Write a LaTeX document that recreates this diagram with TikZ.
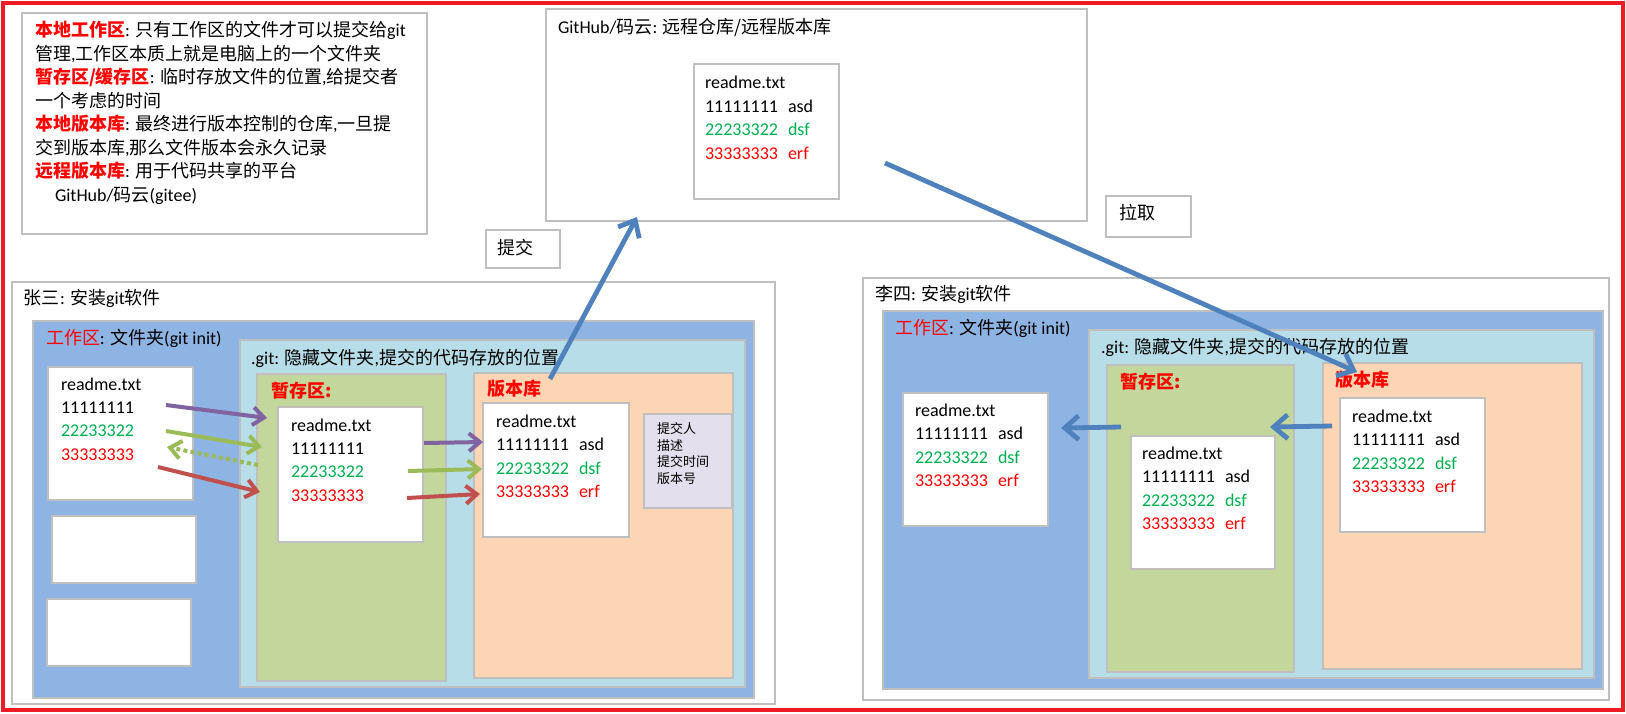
\documentclass[tikz,border=0pt]{standalone}
\usepackage{fontspec}
\setmainfont{Carlito}
\newfontfamily\zhfont{Noto Sans CJK SC}
\usetikzlibrary{arrows.meta}
\definecolor{framered}{HTML}{ED1C24}
\definecolor{bordergray}{HTML}{BFBFBF}
\definecolor{zoneblue}{HTML}{8EB4E3}
\definecolor{zonegit}{HTML}{B7DEE8}
\definecolor{zonestage}{HTML}{C3D69B}
\definecolor{zonerepo}{HTML}{FCD5B5}
\definecolor{zoneinfo}{HTML}{E4DFEC}
\definecolor{tgreen}{HTML}{00B050}
\definecolor{tred}{HTML}{FF0000}
\definecolor{arrblue}{HTML}{4F81BD}
\definecolor{arrpurple}{HTML}{8064A2}
\definecolor{arrgreen}{HTML}{9BBB59}
\definecolor{arrred}{HTML}{C0504D}
\newcommand\zh[1]{{\zhfont #1}}
\newcommand\rb[1]{{\color{tred}\zhfont\bfseries #1}}
\newcommand\rr[1]{{\color{tred}\zhfont #1}}
\newcommand\gt[1]{\textcolor{tgreen}{#1}}
\newcommand\rt[1]{\textcolor{tred}{#1}}
\newcommand\gap{\hspace{5pt}}
\newcommand\rbox[6]{\node[#6, anchor=north west, minimum width={(#4-#2)*0.5pt}, minimum height={(#5-#3)*0.5pt}] (#1) at (#2,#3) {};}
\newcommand\mytext[4]{\node[txt] (#1) at (#2,#3) {#4};}
\tikzset{
  bx/.style={draw=bordergray, line width=0.6pt, inner sep=0pt, outer sep=0pt, fill=white},
  txt/.style={inner sep=0pt, outer sep=0pt, anchor=base west, font=\fontsize{9}{11}\selectfont},
  smalltxt/.style={inner sep=0pt, outer sep=0pt, anchor=base west, font=\fontsize{6.5}{8}\selectfont},
  bigarrow/.style={draw=arrblue, line width=2.4pt, -{Straight Barb[length=7pt,width=12pt]}},
  smallarrow/.style={line width=2pt, -{Straight Barb[length=5.5pt,width=9pt]}},
}
\begin{document}
\begin{tikzpicture}[x=0.5pt,y=-0.5pt]
\useasboundingbox (0,0) rectangle (1626,713);
\node[draw=framered, line width=2pt, anchor=north west, minimum width=810pt, minimum height=353.5pt, inner sep=0pt, outer sep=0pt] (frame) at (3,3) {};

% ---- top-left explanation box
\rbox{tl}{22}{13}{427}{234}{bx}
\mytext{tl1}{35}{36.5}{\rb{本地工作区}: \zh{只有工作区的文件才可以提交给}git}
\mytext{tl2}{35}{60}{\zh{管理},\zh{工作区本质上就是电脑上的一个文件夹}}
\mytext{tl3}{35}{83.5}{\rb{暂存区/缓存区}: \zh{临时存放文件的位置},\zh{给提交者}}
\mytext{tl4}{35}{107}{\zh{一个考虑的时间}}
\mytext{tl5}{35}{130.5}{\rb{本地版本库}: \zh{最终进行版本控制的仓库},\zh{一旦提}}
\mytext{tl6}{35}{154}{\zh{交到版本库},\zh{那么文件版本会永久记录}}
\mytext{tl7}{35}{177.5}{\rb{远程版本库}: \zh{用于代码共享的平台}}
\mytext{tl8}{55}{201}{GitHub/\zh{码云}(gitee)}

% ---- GitHub box
\rbox{gh}{546}{9}{1087}{221}{bx}
\mytext{ghtitle}{558}{33}{GitHub/\zh{码云}: \zh{远程仓库/远程版本库}}
\rbox{ghr}{694}{64}{839}{199}{bx}
\mytext{ghr1}{705}{88}{readme.txt}
\mytext{ghr2}{705}{112}{11111111\gap asd}
\mytext{ghr3}{705}{135}{\gt{22233322\gap dsf}}
\mytext{ghr4}{705}{159}{\rt{33333333\gap erf}}

% ---- labels push / pull
\rbox{pushbox}{486}{230}{560}{268}{bx}
\mytext{pushlbl}{497}{254}{\zh{提交}}
\rbox{pullbox}{1106}{196}{1191}{237}{bx}
\mytext{pulllbl}{1119}{219}{\zh{拉取}}

% ---- Zhang San
\rbox{zs}{12}{282}{775}{704}{bx}
\mytext{zstitle}{24}{304}{\zh{张三}: \zh{安装}git\zh{软件}}
\rbox{zsw}{33}{321}{754}{698}{bx, fill=zoneblue}
\mytext{zswlbl}{46}{344}{\rr{工作区}: \zh{文件夹}(git init)}
\rbox{zsg}{240}{340}{745}{687}{bx, fill=zonegit}
\mytext{zsglbl}{251}{364}{.git: \zh{隐藏文件夹},\zh{提交的代码存放的位置}}
\rbox{zss}{257}{374}{446}{681}{bx, fill=zonestage}
\mytext{zsslbl}{271}{397}{\rb{暂存区:}}
\rbox{zsr}{474}{373}{733}{678}{bx, fill=zonerepo}
\mytext{zsrlbl}{487}{395}{\rb{版本库}}
\rbox{zwf}{48}{367}{193}{500}{bx}
\mytext{zwf1}{61}{390}{readme.txt}
\mytext{zwf2}{61}{413.3}{11111111}
\mytext{zwf3}{61}{436.6}{\gt{22233322}}
\mytext{zwf4}{61}{460}{\rt{33333333}}
\rbox{zwb2}{52}{516}{196}{583}{bx}
\rbox{zwb3}{47}{599}{191}{666}{bx}
\rbox{zsf}{278}{407}{423}{542}{bx}
\mytext{zsf1}{291}{431}{readme.txt}
\mytext{zsf2}{291}{454.3}{11111111}
\mytext{zsf3}{291}{477.6}{\gt{22233322}}
\mytext{zsf4}{291}{501}{\rt{33333333}}
\rbox{zrf}{483}{403}{629}{537}{bx}
\mytext{zrf1}{496}{427}{readme.txt}
\mytext{zrf2}{496}{450.5}{11111111\gap asd}
\mytext{zrf3}{496}{474}{\gt{22233322\gap dsf}}
\mytext{zrf4}{496}{497.5}{\rt{33333333\gap erf}}
\rbox{zinfo}{644}{414}{732}{508}{bx, fill=zoneinfo}
\node[smalltxt] (zi1) at (657,433.5) {\zh{提交人}};
\node[smalltxt] (zi2) at (657,450) {\zh{描述}};
\node[smalltxt] (zi3) at (657,466.5) {\zh{提交时间}};
\node[smalltxt] (zi4) at (657,483) {\zh{版本号}};

% ---- Li Si
\rbox{ls}{863}{278}{1609}{700}{bx}
\mytext{lstitle}{875}{300}{\zh{李四}: \zh{安装}git\zh{软件}}
\rbox{lsw}{883}{311}{1603}{689}{bx, fill=zoneblue}
\mytext{lswlbl}{895}{334}{\rr{工作区}: \zh{文件夹}(git init)}
\rbox{lsg}{1089}{330}{1594}{678}{bx, fill=zonegit}
\mytext{lsglbl}{1101}{353}{.git: \zh{隐藏文件夹},\zh{提交的代码存放的位置}}
\rbox{lss}{1107}{365}{1294}{672}{bx, fill=zonestage}
\mytext{lsslbl}{1120}{388}{\rb{暂存区:}}
\rbox{lsr}{1323}{363}{1582}{669}{bx, fill=zonerepo}
\mytext{lsrlbl}{1335}{386}{\rb{版本库}}
\rbox{lwf}{903}{393}{1048}{526}{bx}
\mytext{lwf1}{915}{416}{readme.txt}
\mytext{lwf2}{915}{439.5}{11111111\gap asd}
\mytext{lwf3}{915}{463}{\gt{22233322\gap dsf}}
\mytext{lwf4}{915}{486.5}{\rt{33333333\gap erf}}
\rbox{lsf}{1131}{436}{1275}{569}{bx}
\mytext{lsf1}{1142}{459}{readme.txt}
\mytext{lsf2}{1142}{482.5}{11111111\gap asd}
\mytext{lsf3}{1142}{506}{\gt{22233322\gap dsf}}
\mytext{lsf4}{1142}{529.5}{\rt{33333333\gap erf}}
\rbox{lrf}{1340}{398}{1485}{532}{bx}
\mytext{lrf1}{1352}{422}{readme.txt}
\mytext{lrf2}{1352}{445.5}{11111111\gap asd}
\mytext{lrf3}{1352}{469}{\gt{22233322\gap dsf}}
\mytext{lrf4}{1352}{492.5}{\rt{33333333\gap erf}}

% ---- arrow end points
\coordinate (pushS) at (550,379);
\coordinate (pushE) at (637,217);
\coordinate (pullS) at (885,163);
\coordinate (pullE) at (1357,372);
\coordinate (l1S) at (1332,426);
\coordinate (l1E) at (1270,427);
\coordinate (l2S) at (1121,427);
\coordinate (l2E) at (1061,428);
\coordinate (p1S) at (166,405);
\coordinate (p1E) at (267,418);
\coordinate (g1S) at (166,431);
\coordinate (g1E) at (262,447);
\coordinate (gdS) at (258,465);
\coordinate (gdE) at (167,447);
\coordinate (r1S) at (158,467);
\coordinate (r1E) at (260,492);
\coordinate (p2S) at (424,443);
\coordinate (p2E) at (483,442);
\coordinate (g2S) at (408,471);
\coordinate (g2E) at (482,469);
\coordinate (r2S) at (407,498);
\coordinate (r2E) at (480,494);

\draw[smallarrow, draw=arrpurple] (p1S) -- (p1E);
\draw[smallarrow, draw=arrgreen] (g1S) -- (g1E);
\draw[smallarrow, draw=arrgreen, dash pattern=on 2pt off 1.6pt] (gdS) -- (gdE);
\draw[smallarrow, draw=arrred] (r1S) -- (r1E);
\draw[smallarrow, draw=arrpurple] (p2S) -- (p2E);
\draw[smallarrow, draw=arrgreen] (g2S) -- (g2E);
\draw[smallarrow, draw=arrred] (r2S) -- (r2E);

\draw[bigarrow] (pushS) -- (pushE);
\draw[bigarrow] (pullS) -- (pullE);
\draw[bigarrow] (l1S) -- (l1E);
\draw[bigarrow] (l2S) -- (l2E);
\end{tikzpicture}
\end{document}
